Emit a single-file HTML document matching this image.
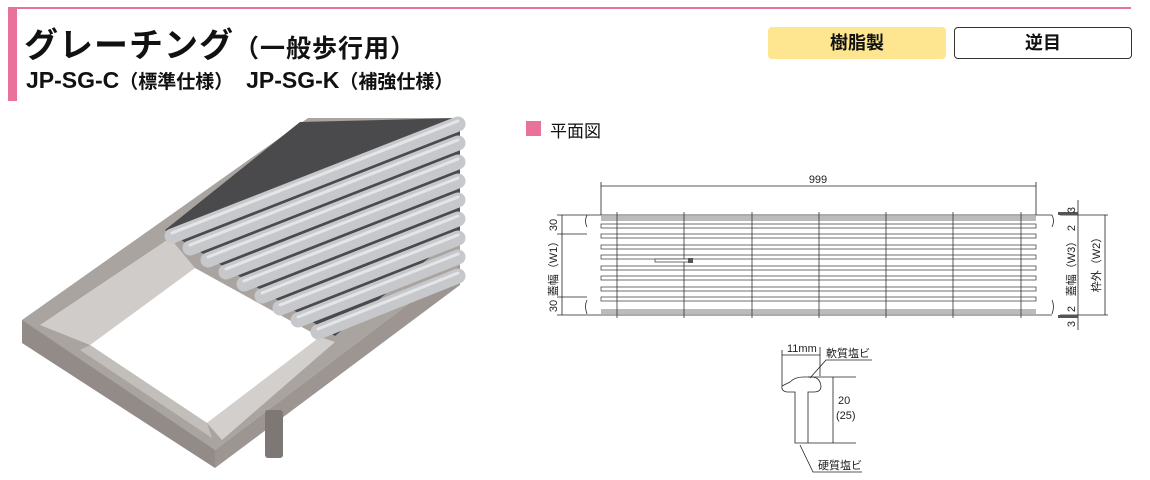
<!DOCTYPE html>
<html><head><meta charset="utf-8"><style>
body{margin:0;width:1150px;height:480px;background:#fff;position:relative;overflow:hidden;font-family:"Liberation Sans","Noto Sans CJK JP",sans-serif;color:#111}
.a{position:absolute;white-space:nowrap}
</style></head><body>
<div class="a" style="left:8px;top:7px;width:1123px;height:2px;background:#e8729c"></div>
<div class="a" style="left:8px;top:7px;width:9px;height:94px;background:#e8729c"></div>
<div class="a" style="left:24px;top:18px;font-size:34px;font-weight:bold;letter-spacing:1px">グレーチング<span style="font-size:25px;font-weight:bold">（一般歩行用）</span></div>
<div class="a" style="left:26px;top:67px;font-size:23px;font-weight:bold">JP-SG-C<span style="font-size:19px;font-weight:bold">（標準仕様）</span>&nbsp;&nbsp;JP-SG-K<span style="font-size:19px;font-weight:bold">（補強仕様）</span></div>
<div class="a" style="left:768px;top:27px;width:178px;height:32px;background:#fde68f;border-radius:4px;text-align:center;line-height:32px;font-size:18px;font-weight:bold">樹脂製</div>
<div class="a" style="left:954px;top:27px;width:176px;height:30px;border:1px solid #333;border-radius:4px;text-align:center;line-height:30px;font-size:18px;font-weight:bold">逆目</div>
<div class="a" style="left:526px;top:121px;width:15px;height:15px;background:#e8729c"></div>
<div class="a" style="left:550px;top:117px;font-size:17px">平面図</div>

<svg class="a" style="left:0;top:0" width="1150" height="480" viewBox="0 0 1150 480" font-family="Liberation Sans, Noto Sans CJK JP, sans-serif">
<!-- photo -->
<polygon points="22,320 308,118 460,118 460,265 215,450 22,333" fill="#aaa4a0"/>
<polygon points="22,320 22,343 215,468 215,450" fill="#928b87"/>
<polygon points="215,450 215,468 460,285 460,265" fill="#9c9591"/>
<polygon points="40,325 170,238 195,268 90,345" fill="#cfccc9"/>
<polygon points="90,345 195,268 320,337 207,423" fill="#fff"/>
<polygon points="207,423 320,337 335,342 222,440" fill="#d2cfcc"/>
<polygon points="90,345 207,423 212,438 80,350" fill="#c2beba"/>
<polygon points="165,230 300,122 460,118 460,232 335,336" fill="#4a4a4d"/>
<g stroke="#c6c8cb" stroke-width="15" stroke-linecap="round">
<line x1="172" y1="236" x2="458" y2="124"/>
<line x1="190" y1="248" x2="458" y2="143"/>
<line x1="208" y1="260" x2="458" y2="162"/>
<line x1="226" y1="272" x2="458" y2="181"/>
<line x1="244" y1="284" x2="458" y2="200"/>
<line x1="262" y1="296" x2="458" y2="219"/>
<line x1="280" y1="308" x2="458" y2="238"/>
<line x1="298" y1="320" x2="458" y2="257"/>
<line x1="318" y1="332" x2="458" y2="276"/>
</g>
<g stroke="#e4e5e7" stroke-width="3" stroke-linecap="round">
<line x1="172" y1="233" x2="458" y2="121"/>
<line x1="190" y1="245" x2="458" y2="140"/>
<line x1="208" y1="257" x2="458" y2="159"/>
<line x1="226" y1="269" x2="458" y2="178"/>
<line x1="244" y1="281" x2="458" y2="197"/>
<line x1="262" y1="293" x2="458" y2="216"/>
<line x1="280" y1="305" x2="458" y2="235"/>
<line x1="298" y1="317" x2="458" y2="254"/>
<line x1="318" y1="329" x2="458" y2="273"/>
</g>
<rect x="265" y="410" width="18" height="48" fill="#7d7875" rx="3"/>
<!-- plan view -->
<g stroke="#222" stroke-width="0.8" fill="none">
<line x1="601" y1="186" x2="1036" y2="186"/>
<line x1="601" y1="182" x2="601" y2="215"/>
<line x1="1036" y1="182" x2="1036" y2="215"/>
<line x1="587" y1="215" x2="1052" y2="215"/>
<line x1="587" y1="315" x2="1052" y2="315"/>
</g>
<text x="818" y="183" font-size="11" text-anchor="middle" fill="#222">999</text>
<rect x="601" y="216" width="435" height="5" fill="#bbb"/>
<rect x="601" y="309" width="435" height="5" fill="#bbb"/>
<g stroke="#333" stroke-width="0.7" fill="#fff">
<rect x="601" y="224" width="435" height="4"/><rect x="601" y="234" width="435" height="4"/>
<rect x="601" y="245" width="435" height="4"/><rect x="601" y="255" width="435" height="4"/>
<rect x="601" y="266" width="435" height="4"/><rect x="601" y="276" width="435" height="4"/>
<rect x="601" y="287" width="435" height="4"/><rect x="601" y="297" width="435" height="4"/>
</g>
<g stroke="#333" stroke-width="0.8">
<line x1="617" y1="212" x2="617" y2="318"/><line x1="684" y1="212" x2="684" y2="318"/>
<line x1="752" y1="212" x2="752" y2="318"/><line x1="819" y1="212" x2="819" y2="318"/>
<line x1="886" y1="212" x2="886" y2="318"/><line x1="953" y1="212" x2="953" y2="318"/>
<line x1="1021" y1="212" x2="1021" y2="318"/>
</g>
<rect x="655" y="259" width="35" height="3" fill="#fff" stroke="#333" stroke-width="0.7"/>
<rect x="688" y="258" width="5" height="5" fill="#555"/>
<g stroke="#222" stroke-width="0.8" fill="none">
<path d="M587 215 q-3 6 0 12 M587 300 q-3 6 0 14 M1052 215 q3 6 0 12 M1052 300 q3 6 0 14"/>
<line x1="562" y1="215" x2="562" y2="315"/>
<line x1="557" y1="215" x2="587" y2="215"/><line x1="557" y1="234" x2="587" y2="234"/>
<line x1="557" y1="297" x2="587" y2="297"/><line x1="557" y1="315" x2="587" y2="315"/>
<line x1="1060" y1="215" x2="1108" y2="215"/><line x1="1060" y1="315" x2="1108" y2="315"/>
<line x1="1078" y1="200" x2="1078" y2="330"/>
<line x1="1105" y1="215" x2="1105" y2="315"/>
</g>
<rect x="1058" y="212" width="20" height="3" fill="#555"/>
<rect x="1058" y="315" width="20" height="3" fill="#555"/>
<g font-size="11" fill="#222" text-anchor="middle">
<text transform="translate(557,225) rotate(-90)">30</text>
<text transform="translate(557,266) rotate(-90)">蓋幅（W1）</text>
<text transform="translate(557,306) rotate(-90)">30</text>
<text transform="translate(1075,210) rotate(-90)">3</text>
<text transform="translate(1075,228) rotate(-90)">2</text>
<text transform="translate(1075,266) rotate(-90)">蓋幅（W3）</text>
<text transform="translate(1075,309) rotate(-90)">2</text>
<text transform="translate(1075,324) rotate(-90)">3</text>
<text transform="translate(1100,262) rotate(-90)">枠外（W2）</text>
</g>
<!-- profile -->
<g stroke="#222" stroke-width="0.8" fill="none">
<line x1="782" y1="350" x2="782" y2="386"/>
<line x1="820" y1="347" x2="820" y2="376"/>
<line x1="782" y1="355" x2="820" y2="355"/>
<path d="M795 443 L795 392 L787 392 Q781 391 782 386 L790 382 Q795 377 803 377 L813 377 Q820 378 821 386 Q821 392 814 392 L808 392 L808 443 Z" fill="#fff"/>
<line x1="808" y1="377" x2="856" y2="377"/>
<line x1="808" y1="443" x2="856" y2="443"/>
<line x1="833" y1="377" x2="833" y2="443"/>
<path d="M810 378 L826 360 L872 360"/>
<path d="M800 445 L813 472 L862 472"/>
</g>
<g font-size="11" fill="#222">
<text x="787" y="352">11mm</text>
<text x="826" y="357">軟質塩ビ</text>
<text x="838" y="404">20</text>
<text x="836" y="419">(25)</text>
<text x="818" y="469">硬質塩ビ</text>
</g>
</svg>
</body></html>
